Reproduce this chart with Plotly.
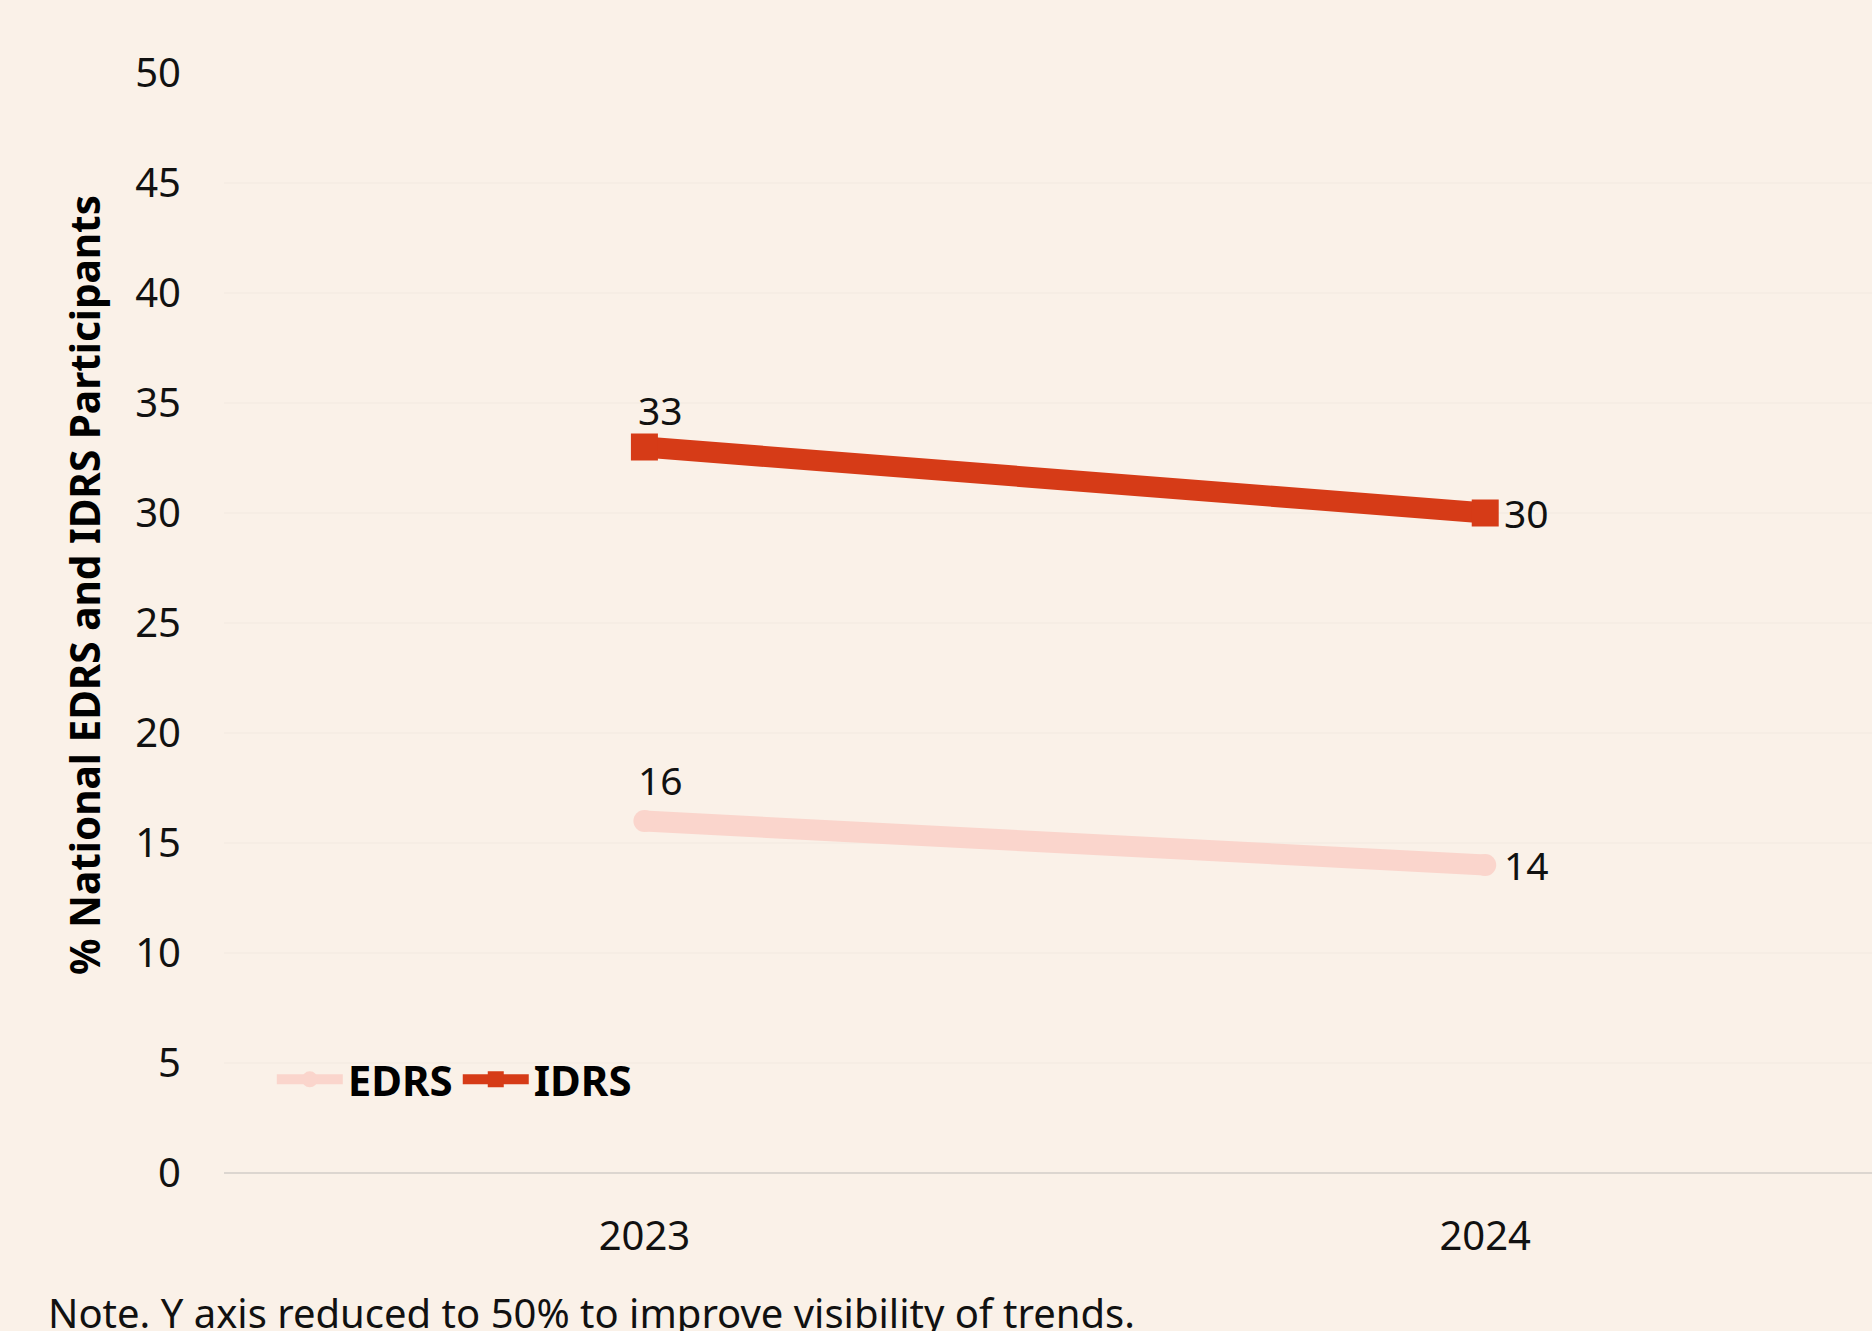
import plotly.graph_objects as go

years = ["2023", "2024"]
edrs = [16, 14]
idrs = [33, 30]
y_ticks = [0, 5, 10, 15, 20, 25, 30, 35, 40, 45, 50]
y_title = "% National EDRS and IDRS Participants"
note = "Note. Y axis reduced to 50% to improve visibility of trends."

BG = "#FAF1E8"
EDRS_COLOR = "#FAD5CC"
IDRS_COLOR = "#D63B17"
FONT = "Noto Sans"

fig = go.Figure()
fig.add_trace(go.Scatter(
    x=years, y=edrs, name="EDRS", mode="lines+markers",
    line=dict(color=EDRS_COLOR, width=21),
    marker=dict(symbol="circle", size=22, color=EDRS_COLOR),
))
fig.add_trace(go.Scatter(
    x=years, y=idrs, name="IDRS", mode="lines+markers",
    line=dict(color=IDRS_COLOR, width=21),
    marker=dict(symbol="square", size=27, color=IDRS_COLOR),
))

annotations = []
for series, top_shift in ((edrs, 42), (idrs, 38)):
    for i, v in enumerate(series):
        if i == 0:
            annotations.append(dict(x=i, y=v, xref="x", yref="y", text=str(v), showarrow=False,
                                    xanchor="center", yanchor="middle",
                                    xshift=16, yshift=top_shift,
                                    font=dict(family=FONT, size=39, color="#111")))
        else:
            annotations.append(dict(x=i, y=v, xref="x", yref="y", text=str(v), showarrow=False,
                                    xanchor="left", yanchor="middle",
                                    xshift=17, yshift=1,
                                    font=dict(family=FONT, size=39, color="#111")))

annotations.append(dict(
    xref="paper", yref="paper", x=-0.085, y=0.5345, xanchor="center", yanchor="middle",
    text=y_title, textangle=-90, showarrow=False,
    font=dict(family=FONT, size=40.5, color="#000", weight="bold"),
))
annotations.append(dict(
    xref="paper", yref="paper", x=-0.108, y=-0.1, xanchor="left", yanchor="top",
    text=note, showarrow=False, font=dict(family=FONT, size=40, color="#111"),
))

fig.update_layout(
    width=1872, height=1331,
    margin=dict(l=224, r=0, t=73, b=158),
    paper_bgcolor=BG, plot_bgcolor=BG,
    font=dict(family=FONT, size=38, color="#111"),
    showlegend=True,
    legend=dict(orientation="h", x=0.029, xanchor="left", y=0.085, yanchor="middle",
                bgcolor="rgba(0,0,0,0)", itemwidth=66,
                font=dict(family=FONT, size=42, color="#000", weight="bold")),
    annotations=annotations,
)
fig.update_xaxes(
    type="category", range=[-0.5, 1.46], showgrid=False, zeroline=False,
    showline=False, ticks="", ticklabelstandoff=36,
    tickfont=dict(family=FONT, size=40, color="#111"),
)
fig.update_yaxes(
    range=[0, 50], tickvals=y_ticks, showgrid=True, gridcolor="#F6EDE4", gridwidth=2,
    zeroline=True, zerolinecolor="#DCD6D0", zerolinewidth=2, showline=False,
    ticks="", ticklabelstandoff=42,
    tickfont=dict(family=FONT, size=40, color="#111"),
)

fig.write_html("out.html")
